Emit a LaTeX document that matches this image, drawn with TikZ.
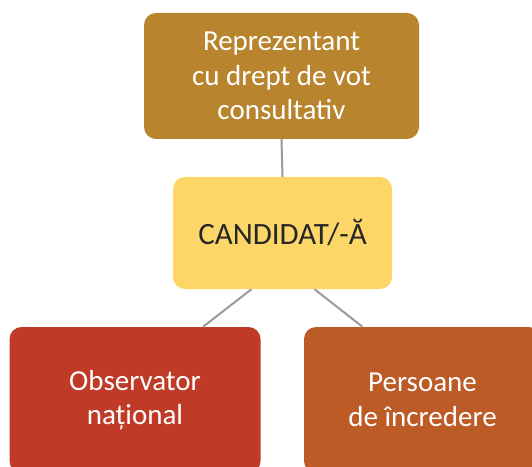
\documentclass[tikz,border=0pt]{standalone}
\usepackage{fontspec}
\setmainfont{Carlito}
\usepackage{tikz}
\usetikzlibrary{positioning}
\definecolor{ochre}{HTML}{B8852E}
\definecolor{sunny}{HTML}{FDD668}
\definecolor{brick}{HTML}{BF3B27}
\definecolor{rust}{HTML}{BD5B27}
\definecolor{ink}{HTML}{262626}
\definecolor{wire}{HTML}{9A9A9A}
\tikzstyle{role} = [
    rectangle,
    rounded corners=12pt,
    inner sep=0pt,
    align=center,
    text=white,
    font=\fontsize{29}{34.5}\selectfont
]
\tikzstyle{link} = [
    line width=2pt,
    draw=wire
]

\begin{document}
\begin{tikzpicture}[x=1pt, y=1pt]
    \useasboundingbox (0,0) rectangle (532,466);
    \node[role, fill=ochre, minimum width=275pt, minimum height=126pt] (rep) at (281.5,390) {Reprezentant\\cu drept de vot\\consultativ};
    \node[role, fill=sunny, text=ink, font=\fontsize{31}{36}\selectfont, minimum width=219pt, minimum height=112pt] (cand) at (282.5,233) {CANDIDAT/-Ă};
    \node[role, fill=brick, minimum width=251pt, minimum height=146pt] (obs) at (135,66) {Observator\\național};
    % right box runs past the page edge
    \node[role, fill=rust, minimum width=237pt, minimum height=146pt] (pers) at (422.5,66) {Persoane\\de încredere};
    \draw[link] (rep.south) -- (cand.north);
    \draw[link] ([xshift=-31pt]cand.south) -- ([xshift=68pt]obs.north);
    \draw[link] ([xshift=32pt]cand.south) -- ([xshift=-60pt]pers.north);
\end{tikzpicture}
\end{document}
